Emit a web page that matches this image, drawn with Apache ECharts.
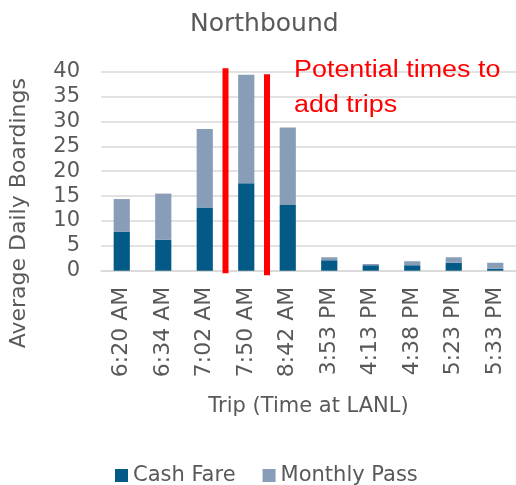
<!DOCTYPE html>
<html><head><meta charset="utf-8">
<script src="https://cdn.jsdelivr.net/npm/echarts@6/dist/echarts.min.js"></script>
<style>html,body{margin:0;padding:0;background:#fff}#c{width:516px;height:485px}</style>
</head><body><div id="c"></div>
<script>
var categories = ['6:20 AM','6:34 AM','7:02 AM','7:50 AM','8:42 AM','3:53 PM','4:13 PM','4:38 PM','5:23 PM','5:33 PM'];
var cashFare = [7.8, 6.2, 12.7, 17.6, 13.2, 2.1, 1.1, 1.1, 1.6, 0.4];
var monthlyPass = [6.6, 9.3, 15.8, 21.8, 15.6, 0.6, 0.25, 0.8, 1.1, 1.2];
var yTicks = [0, 5, 10, 15, 20, 25, 30, 35, 40];
var redLineBetween = [[2, 3], [3, 4]];
var redLineSpans = [[-0.5, 40.7], [-0.9, 39.5]];
var annotationText = 'Potential times to\nadd trips';

var FONT = 'DejaVu Sans';
var chart = echarts.init(document.getElementById('c'), null, {renderer: 'canvas'});
var option = {
  animation: false,
  title: {
    text: 'Northbound', left: 185, top: 7,
    textStyle: {fontFamily: FONT, fontSize: 25, fontWeight: 'normal', color: '#595959'}
  },
  grid: {left: 98.4, right: -8.4, top: 71.7, bottom: 214.3, containLabel: false},
  legend: {
    bottom: -6, left: 110, itemWidth: 13, itemHeight: 13, itemGap: 27,
    icon: 'rect',
    textStyle: {fontFamily: FONT, fontSize: 21, color: '#595959'},
    data: ['Cash Fare', 'Monthly Pass']
  },
  xAxis: {
    type: 'category', data: categories,
    name: 'Trip (Time at LANL)', nameLocation: 'middle', nameGap: 125,
    nameTextStyle: {fontFamily: FONT, fontSize: 21, color: '#595959'},
    axisLine: {lineStyle: {color: '#d9d9d9', width: 1.5}},
    axisTick: {show: false},
    axisLabel: {rotate: 90, margin: 16, fontFamily: FONT, fontSize: 22, color: '#595959', interval: 0}
  },
  yAxis: {
    type: 'value', min: yTicks[0], max: yTicks[yTicks.length - 1], interval: 5,
    name: 'Average Daily Boardings', nameLocation: 'middle', nameGap: 71,
    nameTextStyle: {fontFamily: FONT, fontSize: 22, color: '#595959', padding: [0, 84, 0, 0]},
    axisLine: {show: false}, axisTick: {show: false},
    axisLabel: {margin: 21, fontFamily: FONT, fontSize: 21, color: '#595959'},
    splitLine: {lineStyle: {color: '#d9d9d9', width: 1.5}}
  },
  series: [
    {name: 'Cash Fare', type: 'bar', stack: 'a', data: cashFare, barWidth: '39%',
     itemStyle: {color: '#035a87'}},
    {name: 'Monthly Pass', type: 'bar', stack: 'a', data: monthlyPass, barWidth: '39%',
     itemStyle: {color: '#889db8'}}
  ]
};
chart.setOption(option);

var graphics = [];
redLineBetween.forEach(function (pair, i) {
  var a = chart.convertToPixel({gridIndex: 0}, [pair[0], 0]);
  var b = chart.convertToPixel({gridIndex: 0}, [pair[1], 0]);
  var x = (a[0] + b[0]) / 2;
  var y1 = chart.convertToPixel({gridIndex: 0}, [pair[0], redLineSpans[i][0]])[1];
  var y2 = chart.convertToPixel({gridIndex: 0}, [pair[0], redLineSpans[i][1]])[1];
  graphics.push({type: 'line', z: 100, shape: {x1: x, y1: y1, x2: x, y2: y2},
    style: {stroke: '#ff0000', lineWidth: 6}});
});
graphics.push({type: 'text', z: 100, x: 294, y: 53, scaleX: 1.17,
  style: {text: annotationText, fill: '#ff0000', font: '23px "Liberation Sans"', lineHeight: 35}});
chart.setOption({graphic: graphics});
</script></body></html>
